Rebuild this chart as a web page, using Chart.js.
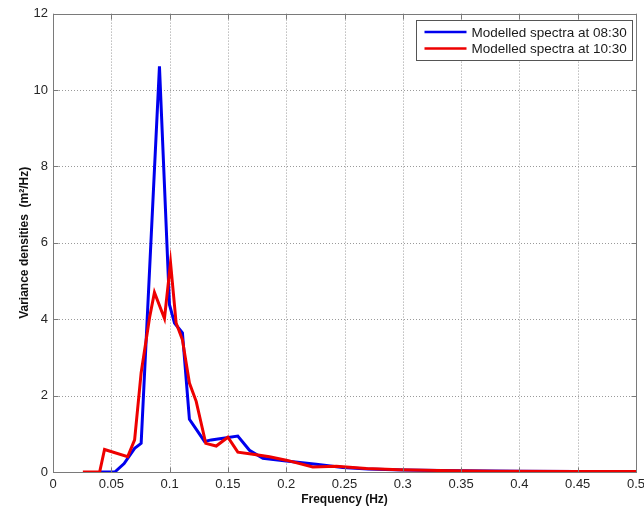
<!DOCTYPE html>
<html>
<head>
<meta charset="utf-8">
<script src="https://cdn.jsdelivr.net/npm/chart.js@4/dist/chart.umd.min.js"></script>
<style>
html,body{margin:0;padding:0;background:#fff;}
canvas{display:block;}
</style>
</head>
<body>
<canvas id="c" width="644" height="508"></canvas>
<script>
// ---- data ----
const seriesLabels = ['Modelled spectra at 08:30', 'Modelled spectra at 10:30'];

const freq0830 = [0.041, 0.053, 0.061, 0.070, 0.0756, 0.0913, 0.0999, 0.1042, 0.111, 0.117, 0.130, 0.1357, 0.1585, 0.1685, 0.180, 0.200, 0.2257, 0.2485, 0.27, 0.30, 0.35, 0.40, 0.45, 0.50];
const vals0830 = [0, 0, 0.22, 0.62, 0.75, 10.62, 4.38, 3.9, 3.64, 1.38, 0.8, 0.84, 0.94, 0.57, 0.36, 0.29, 0.2, 0.12, 0.08, 0.05, 0.03, 0.02, 0.015, 0.01];

const freq1030 = [0.0256, 0.040, 0.0442, 0.064, 0.070, 0.0756, 0.0828, 0.087, 0.0956, 0.1008, 0.1056, 0.111, 0.117, 0.1228, 0.131, 0.140, 0.150, 0.1585, 0.170, 0.1857, 0.200, 0.2228, 0.243, 0.2686, 0.297, 0.33, 0.38, 0.45, 0.50];
const vals1030 = [0, 0, 0.59, 0.4, 0.84, 2.6, 4.04, 4.7, 4.02, 5.48, 3.9, 3.46, 2.33, 1.85, 0.75, 0.68, 0.91, 0.52, 0.47, 0.4, 0.31, 0.13, 0.15, 0.09, 0.06, 0.04, 0.02, 0.012, 0.01];

const xTickLabels = ['0', '0.05', '0.1', '0.15', '0.2', '0.25', '0.3', '0.35', '0.4', '0.45', '0.5'];
const yTickLabels = ['0', '2', '4', '6', '8', '10', '12'];

const seriesColors = ['#0000ee', '#ee0000'];

function pts(xs, ys){ return xs.map((v,i)=>({x:v, y:ys[i]})); }

// grid, frame and inward ticks drawn from the chart's own scales
const framePlugin = {
  id: 'frame',
  beforeDatasetsDraw(chart){
    const {ctx, chartArea:a, scales:{x, y}} = chart;
    ctx.save();
    ctx.strokeStyle = '#9a9a9a';
    ctx.lineWidth = 1;
    ctx.setLineDash([1, 2]);
    x.ticks.forEach(t => {
      const px = Math.round(x.getPixelForValue(t.value)) + 0.5;
      ctx.beginPath(); ctx.moveTo(px, a.top); ctx.lineTo(px, a.bottom); ctx.stroke();
    });
    y.ticks.forEach(t => {
      const py = Math.round(y.getPixelForValue(t.value)) + 0.5;
      ctx.beginPath(); ctx.moveTo(a.left, py); ctx.lineTo(a.right, py); ctx.stroke();
    });
    ctx.restore();
  },
  afterDatasetsDraw(chart){
    const {ctx, chartArea:a, scales:{x, y}} = chart;
    ctx.save();
    ctx.strokeStyle = '#7a7a7a';
    ctx.lineWidth = 1;
    ctx.setLineDash([]);
    const L = Math.round(a.left) + 0.5, R = Math.round(a.right) + 0.5;
    const T = Math.round(a.top) + 0.5, B = Math.round(a.bottom) + 0.5;
    ctx.strokeRect(L, T, R - L, B - T);
    const tl = 5;
    x.ticks.forEach(t => {
      const px = Math.round(x.getPixelForValue(t.value)) + 0.5;
      ctx.beginPath(); ctx.moveTo(px, B); ctx.lineTo(px, B - tl); ctx.stroke();
      ctx.beginPath(); ctx.moveTo(px, T); ctx.lineTo(px, T + tl); ctx.stroke();
    });
    y.ticks.forEach(t => {
      const py = Math.round(y.getPixelForValue(t.value)) + 0.5;
      ctx.beginPath(); ctx.moveTo(L, py); ctx.lineTo(L + tl, py); ctx.stroke();
      ctx.beginPath(); ctx.moveTo(R, py); ctx.lineTo(R - tl, py); ctx.stroke();
    });
    ctx.restore();
  },
  afterDraw(chart){
    // legend box inside the plot, top-right
    const {ctx, chartArea:a} = chart;
    const ds = chart.data.datasets;
    ctx.save();
    const bx = Math.round(a.right) - 219.5, by = 20.5, bw = 216, bh = 40;
    ctx.fillStyle = '#ffffff';
    ctx.fillRect(bx, by, bw, bh);
    ctx.strokeStyle = '#555555';
    ctx.lineWidth = 1;
    ctx.strokeRect(bx, by, bw, bh);
    ctx.font = '13.5px "Liberation Sans", Arial, sans-serif';
    ctx.textBaseline = 'middle';
    ctx.textAlign = 'left';
    ds.forEach((d, i) => {
      const cy = by + 11.5 + i * 16.5;
      ctx.strokeStyle = d.borderColor;
      ctx.lineWidth = 2.5;
      ctx.beginPath(); ctx.moveTo(bx + 8, cy); ctx.lineTo(bx + 50, cy); ctx.stroke();
      ctx.fillStyle = '#1a1a1a';
      ctx.fillText(d.label, bx + 55, cy + 1);
    });
    ctx.restore();
  }
};

new Chart(document.getElementById('c'), {
  type: 'line',
  data: {
    datasets: [
      { label: seriesLabels[0], data: pts(freq0830, vals0830), borderColor: seriesColors[0], backgroundColor: seriesColors[0], borderWidth: 3, pointRadius: 0, tension: 0, order: 2 },
      { label: seriesLabels[1], data: pts(freq1030, vals1030), borderColor: seriesColors[1], backgroundColor: seriesColors[1], borderWidth: 3, pointRadius: 0, tension: 0, order: 1 }
    ]
  },
  options: {
    responsive: false,
    animation: false,
    devicePixelRatio: 1,
    layout: { padding: { top: 13.6, right: 8, left: 0, bottom: 0 } },
    plugins: { legend: { display: false }, tooltip: { enabled: false } },
    scales: {
      x: {
        type: 'linear', min: 0, max: 0.5,
        afterFit: s => { s.height = 36; s.paddingLeft = 0; s.paddingRight = 0; },
        grid: { display: false, drawTicks: false },
        border: { display: false },
        ticks: {
          stepSize: 0.05, padding: 5, maxRotation: 0, autoSkip: false,
          color: '#262626',
          font: { family: '"Liberation Sans", Arial, sans-serif', size: 13 },
          callback: (v, i) => xTickLabels[i]
        },
        title: {
          display: true, text: 'Frequency (Hz)', color: '#111',
          font: { family: '"Liberation Sans", Arial, sans-serif', size: 12, weight: 'bold' },
          padding: 1
        }
      },
      y: {
        type: 'linear', min: 0, max: 12,
        afterFit: s => { s.width = 53; s.paddingTop = 0; s.paddingBottom = 0; },
        grid: { display: false, drawTicks: false },
        border: { display: false },
        ticks: {
          stepSize: 2, padding: 5, autoSkip: false,
          color: '#262626',
          font: { family: '"Liberation Sans", Arial, sans-serif', size: 13 },
          callback: (v, i) => yTickLabels[i]
        },
        title: {
          display: true, text: 'Variance densities  (m²/Hz)', color: '#111',
          font: { family: '"Liberation Sans", Arial, sans-serif', size: 12, weight: 'bold' },
          padding: 17
        }
      }
    }
  },
  plugins: [framePlugin]
});
</script>
</body>
</html>
